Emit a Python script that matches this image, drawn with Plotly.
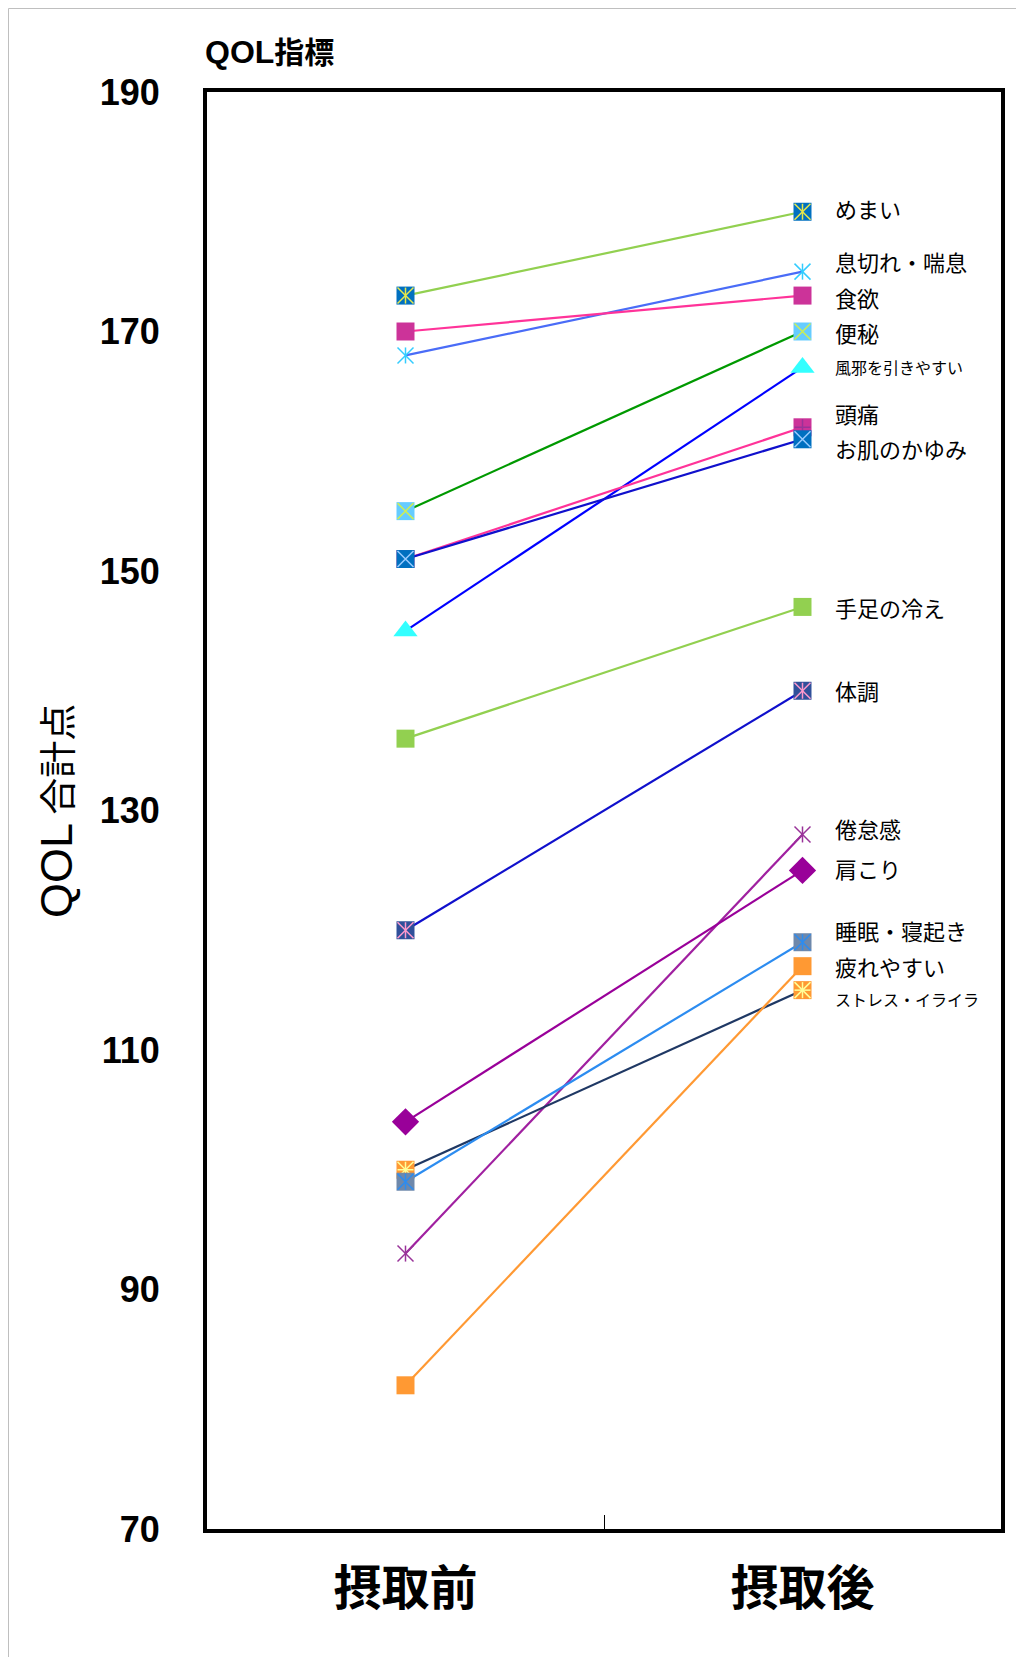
import plotly.graph_objects as go

# ---------------- data ----------------
categories = ["摂取前", "摂取後"]
y_ticks = [70, 90, 110, 130, 150, 170, 190]

names = ["めまい", "息切れ・喘息", "食欲", "便秘", "風邪を引きやすい", "頭痛", "お肌のかゆみ",
         "手足の冷え", "体調", "倦怠感", "肩こり", "ストレス・イライラ", "疲れやすい", "睡眠・寝起き"]
before = [173, 168, 170, 155, 145, 151, 151, 136, 120, 93, 104, 100, 82, 99]
after = [180, 175, 173, 170, 167, 162, 161, 147, 140, 128, 125, 115, 117, 119]

# label vertical placement (data units) for the right-hand labels
label_y = [180.3, 175.9, 172.9, 170.0, 167.0, 163.2, 160.3,
           147.0, 140.1, 128.5, 125.2, 114.3, 117.0, 120.0]

# ---------------- styles ----------------
line_colors = ["#92D050", "#4A6CF7", "#FF3399", "#009900", "#0000FF", "#FF3399", "#1010CC",
               "#92D050", "#1010CC", "#A020A0", "#990099", "#1F3864", "#FF9933", "#2C8CF0"]
# (symbol, fill colour, overlay kind, overlay colour)
marker_styles = [
    ("square", "#0070C0", "star", "#E8E84A"),
    (None, None, "star", "#33CCFF"),
    ("square", "#CC3399", None, None),
    ("square", "#66CCFF", "x", "#CCEE55"),
    ("triangle-up", "#33FFFF", None, None),
    ("square", "#CC3399", "cross", "#993399"),
    ("square", "#0070C0", "x", "#99CCFF"),
    ("square", "#92D050", None, None),
    ("square", "#30509A", "star", "#FF99CC"),
    (None, None, "star", "#993399"),
    ("diamond", "#990099", None, None),
    ("square", "#FF9933", "aster", "#FFFF99"),
    ("square", "#FF9933", None, None),
    ("square", "#6E88AB", "star", "#2C8CF0"),
]

MS = 18

fig = go.Figure()
for i, name in enumerate(names):
    sym, fill, ov, ovc = marker_styles[i]
    xs = categories
    ys = [before[i], after[i]]
    fig.add_trace(go.Scatter(
        x=xs, y=ys, mode="lines+markers" if sym else "lines",
        line=dict(color=line_colors[i], width=2.2),
        marker=dict(symbol=sym or "circle", color=fill, size=MS + (3 if sym != "square" else 0),
                    line=dict(width=0)),
        showlegend=False, hoverinfo="skip"))
    if ov:
        parts = []
        if ov in ("x", "star", "aster"):
            parts.append(("x-thin-open", MS - 2))
        if ov in ("star", "aster"):
            parts.append(("line-ns-open", (MS - 2) / 1.4))
        if ov == "aster":
            parts.append(("line-ew-open", (MS - 2) / 1.4))
        if ov == "cross":
            parts.append(("cross-thin-open", (MS - 2) / 1.4))
        for s, sz in parts:
            fig.add_trace(go.Scatter(
                x=xs, y=ys, mode="markers",
                marker=dict(symbol=s, size=sz, color=ovc, line=dict(color=ovc, width=1.5)),
                showlegend=False, hoverinfo="skip"))

for i, name in enumerate(names):
    fig.add_annotation(
        x=categories[1], y=label_y[i], xref="x", yref="y",
        text=name, showarrow=False, xanchor="left", yanchor="middle", xshift=30,
        font=dict(family="Noto Sans CJK JP", size=16 if len(name) > 6 else 22, color="black"))

# page has an 8px body margin; figure is sized to fill the rest of the window
OFF = 8
W, H = 1024 - OFF, 1657 - OFF
L, T = 207 - OFF, 92 - OFF
R = W - (1001 - OFF)
B = H - (1529 - OFF)
pw, ph = W - L - R, H - T - B

def px_x(p):
    return (p - OFF - L) / pw

def px_y(p):
    return (H - B - (p - OFF)) / ph

fig.add_annotation(x=px_x(203), y=px_y(50), xref="paper", yref="paper",
                   text=("<b><span style='font-family:Liberation Sans;font-size:32px'>QOL</span>"
                         "指標</b>"),
                   showarrow=False, xanchor="left", yanchor="middle",
                   font=dict(family="Noto Sans CJK JP", size=30, color="black"))
fig.add_annotation(x=px_x(56), y=px_y(811), xref="paper", yref="paper",
                   text="<span style='font-family:Liberation Sans;font-size:45px'>QOL</span> 合計点",
                   showarrow=False, xanchor="center", yanchor="middle", textangle=-90,
                   font=dict(family="Noto Sans CJK JP", size=37, color="black"))

# outer thin frame (top/left edges of the figure)
fig.add_shape(type="rect", xref="paper", yref="paper",
              x0=px_x(OFF + 0.5), x1=px_x(1100), y0=px_y(1750), y1=px_y(OFF + 0.5),
              line=dict(color="#BFBFBF", width=1), fillcolor="rgba(0,0,0,0)", layer="below")

fig.update_layout(
    width=W, height=H,
    margin=dict(l=L, r=R, t=T, b=B),
    paper_bgcolor="white", plot_bgcolor="white",
    xaxis=dict(type="category", range=[-0.5, 1.5], showgrid=False, zeroline=False,
               showline=True, linecolor="black", linewidth=4, mirror=True,
               ticks="inside", tickson="boundaries", ticklen=14, tickwidth=1, tickcolor="black",
               ticklabelstandoff=14,
               tickfont=dict(family="Noto Sans CJK JP", size=48, color="black", weight="bold")),
    yaxis=dict(range=[70, 190], tickvals=y_ticks, showgrid=False, zeroline=False,
               showline=True, linecolor="black", linewidth=4, mirror=True, ticks="",
               ticklabelstandoff=36,
               tickfont=dict(family="Liberation Sans", size=36, color="black", weight="bold")),
)

fig.write_html("out.html")
